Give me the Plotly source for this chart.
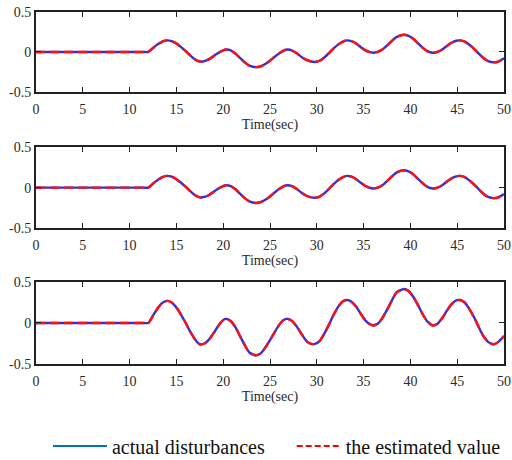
import plotly.graph_objects as go
from plotly.subplots import make_subplots

T = [0, 6.0, 11.5, 12.0, 12.5, 13.0, 13.5, 14.0, 14.5, 15.0, 15.5, 16.0, 16.5, 17.0, 17.5, 18.0, 18.5, 19.0, 19.5,
     20.0, 20.3, 20.8, 21.3, 21.8, 22.3, 22.8, 23.5, 24.0, 24.5, 25.0, 25.5, 26.0, 26.5, 26.9, 27.4, 27.9,
     28.4, 28.9, 29.4, 29.8, 30.3, 30.8, 31.3, 31.8, 32.3, 32.8, 33.2, 33.7, 34.2, 34.7, 35.2, 35.6, 36.0,
     36.5, 37.0, 37.5, 38.0, 38.5, 39.3, 39.8, 40.3, 40.8, 41.3, 41.8, 42.4, 42.9, 43.4, 43.9, 44.4, 44.9,
     45.3, 45.8, 46.3, 46.8, 47.3, 47.8, 48.3, 48.9, 49.4, 50.0]

D1 = [0, 0, 0, 0, 0.05, 0.095, 0.13, 0.145, 0.135, 0.105, 0.06, 0.01, -0.045, -0.095, -0.12, -0.115, -0.09, -0.05, -0.01,
      0.02, 0.03, 0.02, -0.02, -0.075, -0.13, -0.17, -0.19, -0.18, -0.15, -0.11, -0.06, -0.015, 0.02, 0.03, 0.015, -0.02,
      -0.065, -0.1, -0.12, -0.125, -0.11, -0.07, -0.015, 0.045, 0.095, 0.13, 0.145, 0.135, 0.105, 0.06, 0.02, 0.0, -0.01,
      0.0, 0.03, 0.08, 0.135, 0.185, 0.215, 0.2, 0.165, 0.11, 0.055, 0.01, -0.01, 0.0, 0.03, 0.075, 0.115, 0.14,
      0.145, 0.13, 0.09, 0.04, -0.02, -0.075, -0.115, -0.13, -0.12, -0.08]

D2 = [0, 0, 0, 0, 0.05, 0.095, 0.13, 0.145, 0.135, 0.105, 0.06, 0.01, -0.045, -0.095, -0.12, -0.115, -0.09, -0.05, -0.01,
      0.02, 0.03, 0.02, -0.02, -0.075, -0.13, -0.17, -0.19, -0.18, -0.15, -0.11, -0.06, -0.015, 0.02, 0.03, 0.015, -0.02,
      -0.065, -0.1, -0.12, -0.125, -0.11, -0.07, -0.015, 0.045, 0.095, 0.13, 0.145, 0.135, 0.105, 0.06, 0.02, 0.0, -0.01,
      0.0, 0.03, 0.08, 0.135, 0.185, 0.215, 0.2, 0.165, 0.11, 0.055, 0.01, -0.01, 0.0, 0.03, 0.075, 0.115, 0.14,
      0.145, 0.13, 0.09, 0.04, -0.02, -0.075, -0.115, -0.13, -0.12, -0.08]

D3 = [0, 0, 0, 0, 0.09, 0.18, 0.245, 0.27, 0.25, 0.19, 0.1, 0.0, -0.11, -0.2, -0.26, -0.25, -0.2, -0.12, -0.03,
      0.035, 0.05, 0.025, -0.05, -0.16, -0.27, -0.36, -0.395, -0.37, -0.3, -0.21, -0.11, -0.02, 0.04, 0.05, 0.02, -0.05,
      -0.14, -0.22, -0.255, -0.255, -0.22, -0.13, -0.02, 0.1, 0.2, 0.265, 0.28, 0.26, 0.2, 0.11, 0.03, -0.01, -0.03,
      -0.01, 0.06, 0.16, 0.27, 0.37, 0.415, 0.39, 0.32, 0.22, 0.11, 0.02, -0.03, -0.01, 0.06, 0.15, 0.23, 0.275,
      0.28, 0.25, 0.17, 0.07, -0.05, -0.16, -0.23, -0.26, -0.23, -0.16]

ACTUAL = [D1, D2, D3]
ESTIMATED = [D1, D2, D3]

XTICKS = [0, 5, 10, 15, 20, 25, 30, 35, 40, 45, 50]
YTICKS = [-0.5, 0, 0.5]
YTICKTEXT = ["-0.5", "0", "0.5"]

FONT = "Liberation Serif, Times New Roman, serif"
TXT = "#2a2a2a"

fig = make_subplots(rows=3, cols=1, shared_xaxes=False, vertical_spacing=0.1)

for i in range(3):
    fig.add_trace(go.Scatter(x=T, y=ACTUAL[i], mode="lines", line=dict(color="#3030e0", width=2.4, shape="spline", smoothing=0.6),
                             showlegend=False, hoverinfo="skip"), row=i + 1, col=1)
    fig.add_trace(go.Scatter(x=T, y=ESTIMATED[i], mode="lines", line=dict(color="#ff1010", width=2.4, dash="9px,5px", shape="spline", smoothing=0.6),
                             showlegend=False, hoverinfo="skip"), row=i + 1, col=1)

fig.add_trace(go.Scatter(x=[None], y=[None], mode="lines", line=dict(color="#0072BD", width=2), name="actual disturbances", legend="legend"))
fig.add_trace(go.Scatter(x=[None], y=[None], mode="lines", line=dict(color="#ff0000", width=2, dash="6px,3px"), name="the estimated value", legend="legend2"))

domains = [[0.773, 1.0], [0.386, 0.616], [0.0, 0.233]]
for i in range(3):
    ax = "" if i == 0 else str(i + 1)
    fig.layout["xaxis" + ax].update(
        range=[0, 50], tickvals=XTICKS, ticks="inside", ticklen=5, tickwidth=1.2, tickcolor="#222",
        showline=True, linecolor="#222", linewidth=2, mirror="ticks", showgrid=False, zeroline=False,
        tickfont=dict(family=FONT, size=14, color=TXT), automargin=False, ticklabelstandoff=3,
        title=dict(text="Time(sec)", font=dict(family=FONT, size=14, color=TXT), standoff=0),
    )
    fig.layout["yaxis" + ax].update(
        range=[-0.5, 0.5], tickvals=YTICKS, ticktext=YTICKTEXT, ticks="inside", ticklen=5, tickwidth=1.2, tickcolor="#222",
        showline=True, linecolor="#222", linewidth=2, mirror="ticks", showgrid=False, zeroline=False,
        tickfont=dict(family=FONT, size=14, color=TXT), domain=domains[i], automargin=False,
    )

fig.update_layout(
    width=512, height=460,
    margin=dict(l=36, r=8, t=12, b=96, autoexpand=False),
    paper_bgcolor="white", plot_bgcolor="white",
    font=dict(family=FONT, size=14, color=TXT),
    legend=dict(orientation="h", x=0.0256, xanchor="left", y=-0.233, yanchor="middle",
                font=dict(family=FONT, size=20, color="#111"), itemwidth=54,
                bgcolor="rgba(0,0,0,0)"),
    legend2=dict(orientation="h", x=0.5464, xanchor="left", y=-0.233, yanchor="middle",
                 font=dict(family=FONT, size=20, color="#111"), itemwidth=44,
                 bgcolor="rgba(0,0,0,0)"),
)

fig.write_html("out.html", config={"displayModeBar": False},
               post_script="document.body.style.margin='0';document.body.style.overflow='hidden';")
